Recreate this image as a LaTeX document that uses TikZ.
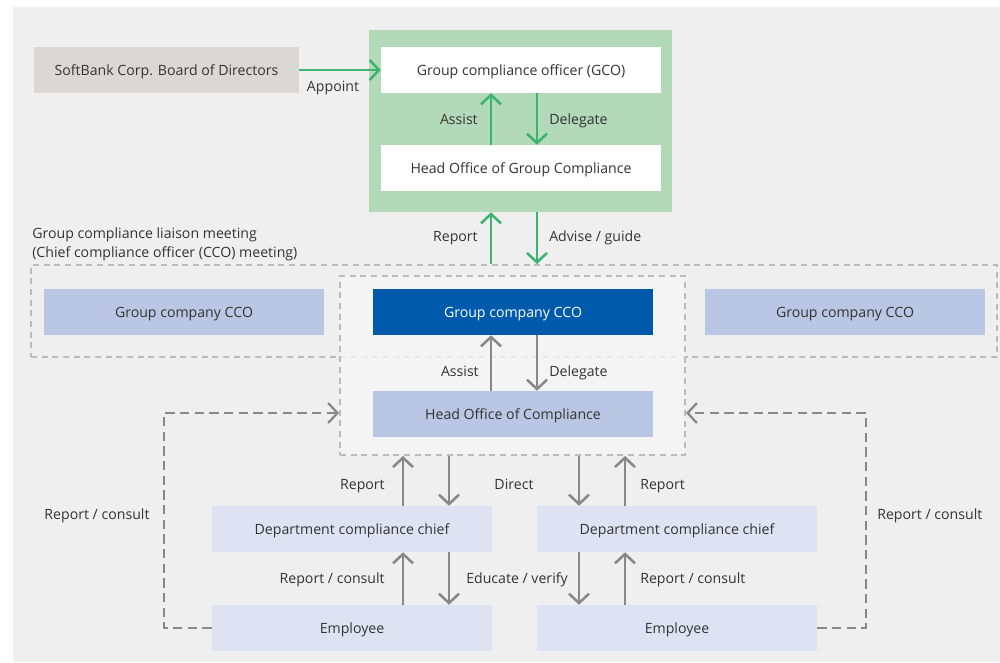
\documentclass[tikz,border=0pt]{standalone}
\usepackage{fontspec}
\setmainfont{Open Sans}
\usetikzlibrary{arrows.meta,calc}
\definecolor{bg}{HTML}{EFEFEF}
\definecolor{boardc}{HTML}{D9D8D6}
\definecolor{gpanel}{HTML}{B2DAB8}
\definecolor{garrc}{HTML}{3DB46D}
\definecolor{ccolight}{HTML}{B9C7E4}
\definecolor{ccodark}{HTML}{005AAB}
\definecolor{deptc}{HTML}{DDE3F3}
\definecolor{innerc}{HTML}{F6F6F6}
\definecolor{txt}{HTML}{333333}
\definecolor{grayarr}{HTML}{888888}
\definecolor{dashc}{HTML}{BBBBBB}
\tikzset{
  box/.style={minimum width=210pt, minimum height=34.5pt, inner sep=0pt, text=txt, text depth=0pt},
  lbl/.style={inner sep=0pt, text=txt, text depth=0pt},
  garr/.style={draw=garrc, line width=1.9pt, -{Straight Barb[length=7pt,width=15pt]}},
  grarr/.style={draw=grayarr, line width=1.9pt, -{Straight Barb[length=7pt,width=15pt]}},
  dasharr/.style={draw=grayarr, line width=1.7pt, dash pattern=on 7pt off 4pt, -{Straight Barb[length=7pt,width=15pt]}},
  dbox/.style={draw=dashc, line width=1.5pt, dash pattern=on 4.5pt off 3.5pt, inner sep=0pt},
}
\begin{document}
\begin{tikzpicture}[x=0.75pt,y=-0.75pt, font=\fontsize{10.6}{12.5}\selectfont]
\useasboundingbox (0,0) rectangle (1000,662);
\fill[bg] (13,7) rectangle (1000,662);
% top
\node[box, fill=boardc, minimum width=198.75pt] (board) at (166.5,70) {SoftBank Corp. Board of Directors};
\node[fill=gpanel, minimum width=227.25pt, minimum height=136.5pt, inner sep=0pt] (gp) at (520.5,121) {};
\node[box, fill=white] (gco) at (521,70) {Group compliance officer (GCO)};
\node[box, fill=white] (hogc) at (521,168) {Head Office of Group Compliance};
\draw[garr] (board.east) -- (gco.west);
\node[lbl] (appoint) at (333,86) {Appoint};
\draw[garr] ($(hogc.north)+(-30,0)$) -- ($(gco.south)+(-30,0)$);
\draw[garr] ($(gco.south)+(16,0)$) -- ($(hogc.north)+(16,0)$);
\node[lbl, anchor=east] (assist1) at (478,119) {Assist};
\node[lbl, anchor=west] (deleg1) at (549,119) {Delegate};
% liaison meeting
\node[lbl, anchor=west] (lm1) at (32,233) {Group compliance liaison meeting};
\node[lbl, anchor=west] (lm2) at (32,252) {(Chief compliance officer (CCO) meeting)};
\node[dbox, minimum width=724.5pt, minimum height=69pt] (liaison) at (514,311) {};
\node[dbox, fill=innerc, fill opacity=0.8, draw opacity=1, minimum width=258.75pt, minimum height=134.25pt] (comp) at (512.5,365.5) {};
\node[box, fill=ccolight] (cl) at (184,312) {Group company CCO};
\node[box, fill=ccodark, text=white] (cco) at (513,312) {Group company CCO};
\node[box, fill=ccolight] (cr) at (845,312) {Group company CCO};
\node[box, fill=ccolight] (hoc) at (513,414) {Head Office of Compliance};
\coordinate (rx) at (491,0);
\coordinate (ax) at (537,0);
\draw[garr] (rx |- liaison.north) -- (rx |- gp.south);
\draw[garr] (ax |- gp.south) -- (ax |- liaison.north);
\node[lbl, anchor=east] (rep0) at (478,236) {Report};
\node[lbl, anchor=west] (adv) at (549,236) {Advise / guide};
\draw[grarr] (rx |- hoc.north) -- (rx |- cco.south);
\draw[grarr] (ax |- cco.south) -- (ax |- hoc.north);
\node[lbl, anchor=east] (assist2) at (479,371) {Assist};
\node[lbl, anchor=west] (deleg2) at (549,371) {Delegate};
% departments
\node[box, fill=deptc] (dl) at (352,529) {Department compliance chief};
\node[box, fill=deptc] (el) at (352,628) {Employee};
\node[box, fill=deptc] (dr) at (677,529) {Department compliance chief};
\node[box, fill=deptc] (er) at (677,628) {Employee};
\coordinate (x1) at (403,0);
\coordinate (x2) at (449,0);
\coordinate (x3) at (579,0);
\coordinate (x4) at (625,0);
\draw[grarr] (x1 |- dl.north) -- (x1 |- comp.south);
\draw[grarr] (x2 |- comp.south) -- (x2 |- dl.north);
\draw[grarr] (x3 |- comp.south) -- (x3 |- dr.north);
\draw[grarr] (x4 |- dr.north) -- (x4 |- comp.south);
\draw[grarr] (x1 |- el.north) -- (x1 |- dl.south);
\draw[grarr] (x2 |- dl.south) -- (x2 |- el.north);
\draw[grarr] (x3 |- dr.south) -- (x3 |- er.north);
\draw[grarr] (x4 |- er.north) -- (x4 |- dr.south);
\node[lbl, anchor=east] (rep1) at (385,484) {Report};
\node[lbl] (direct) at (514,484) {Direct};
\node[lbl, anchor=west] (rep2) at (640,484) {Report};
\node[lbl, anchor=east] (rc1) at (385,578) {Report / consult};
\node[lbl] (edu) at (517,578) {Educate / verify};
\node[lbl, anchor=west] (rc2) at (640,578) {Report / consult};
% dashed loops
\coordinate (lc) at (164,413);
\coordinate (rc) at (866,413);
\draw[dasharr] (el.west) -| (lc) -- (lc -| comp.west);
\draw[dasharr] (er.east) -| (rc) -- (rc -| comp.east);
\node[lbl] (rcl) at (97,514) {Report / consult};
\node[lbl, anchor=west] (rcr) at (877,514) {Report / consult};
\end{tikzpicture}
\end{document}
